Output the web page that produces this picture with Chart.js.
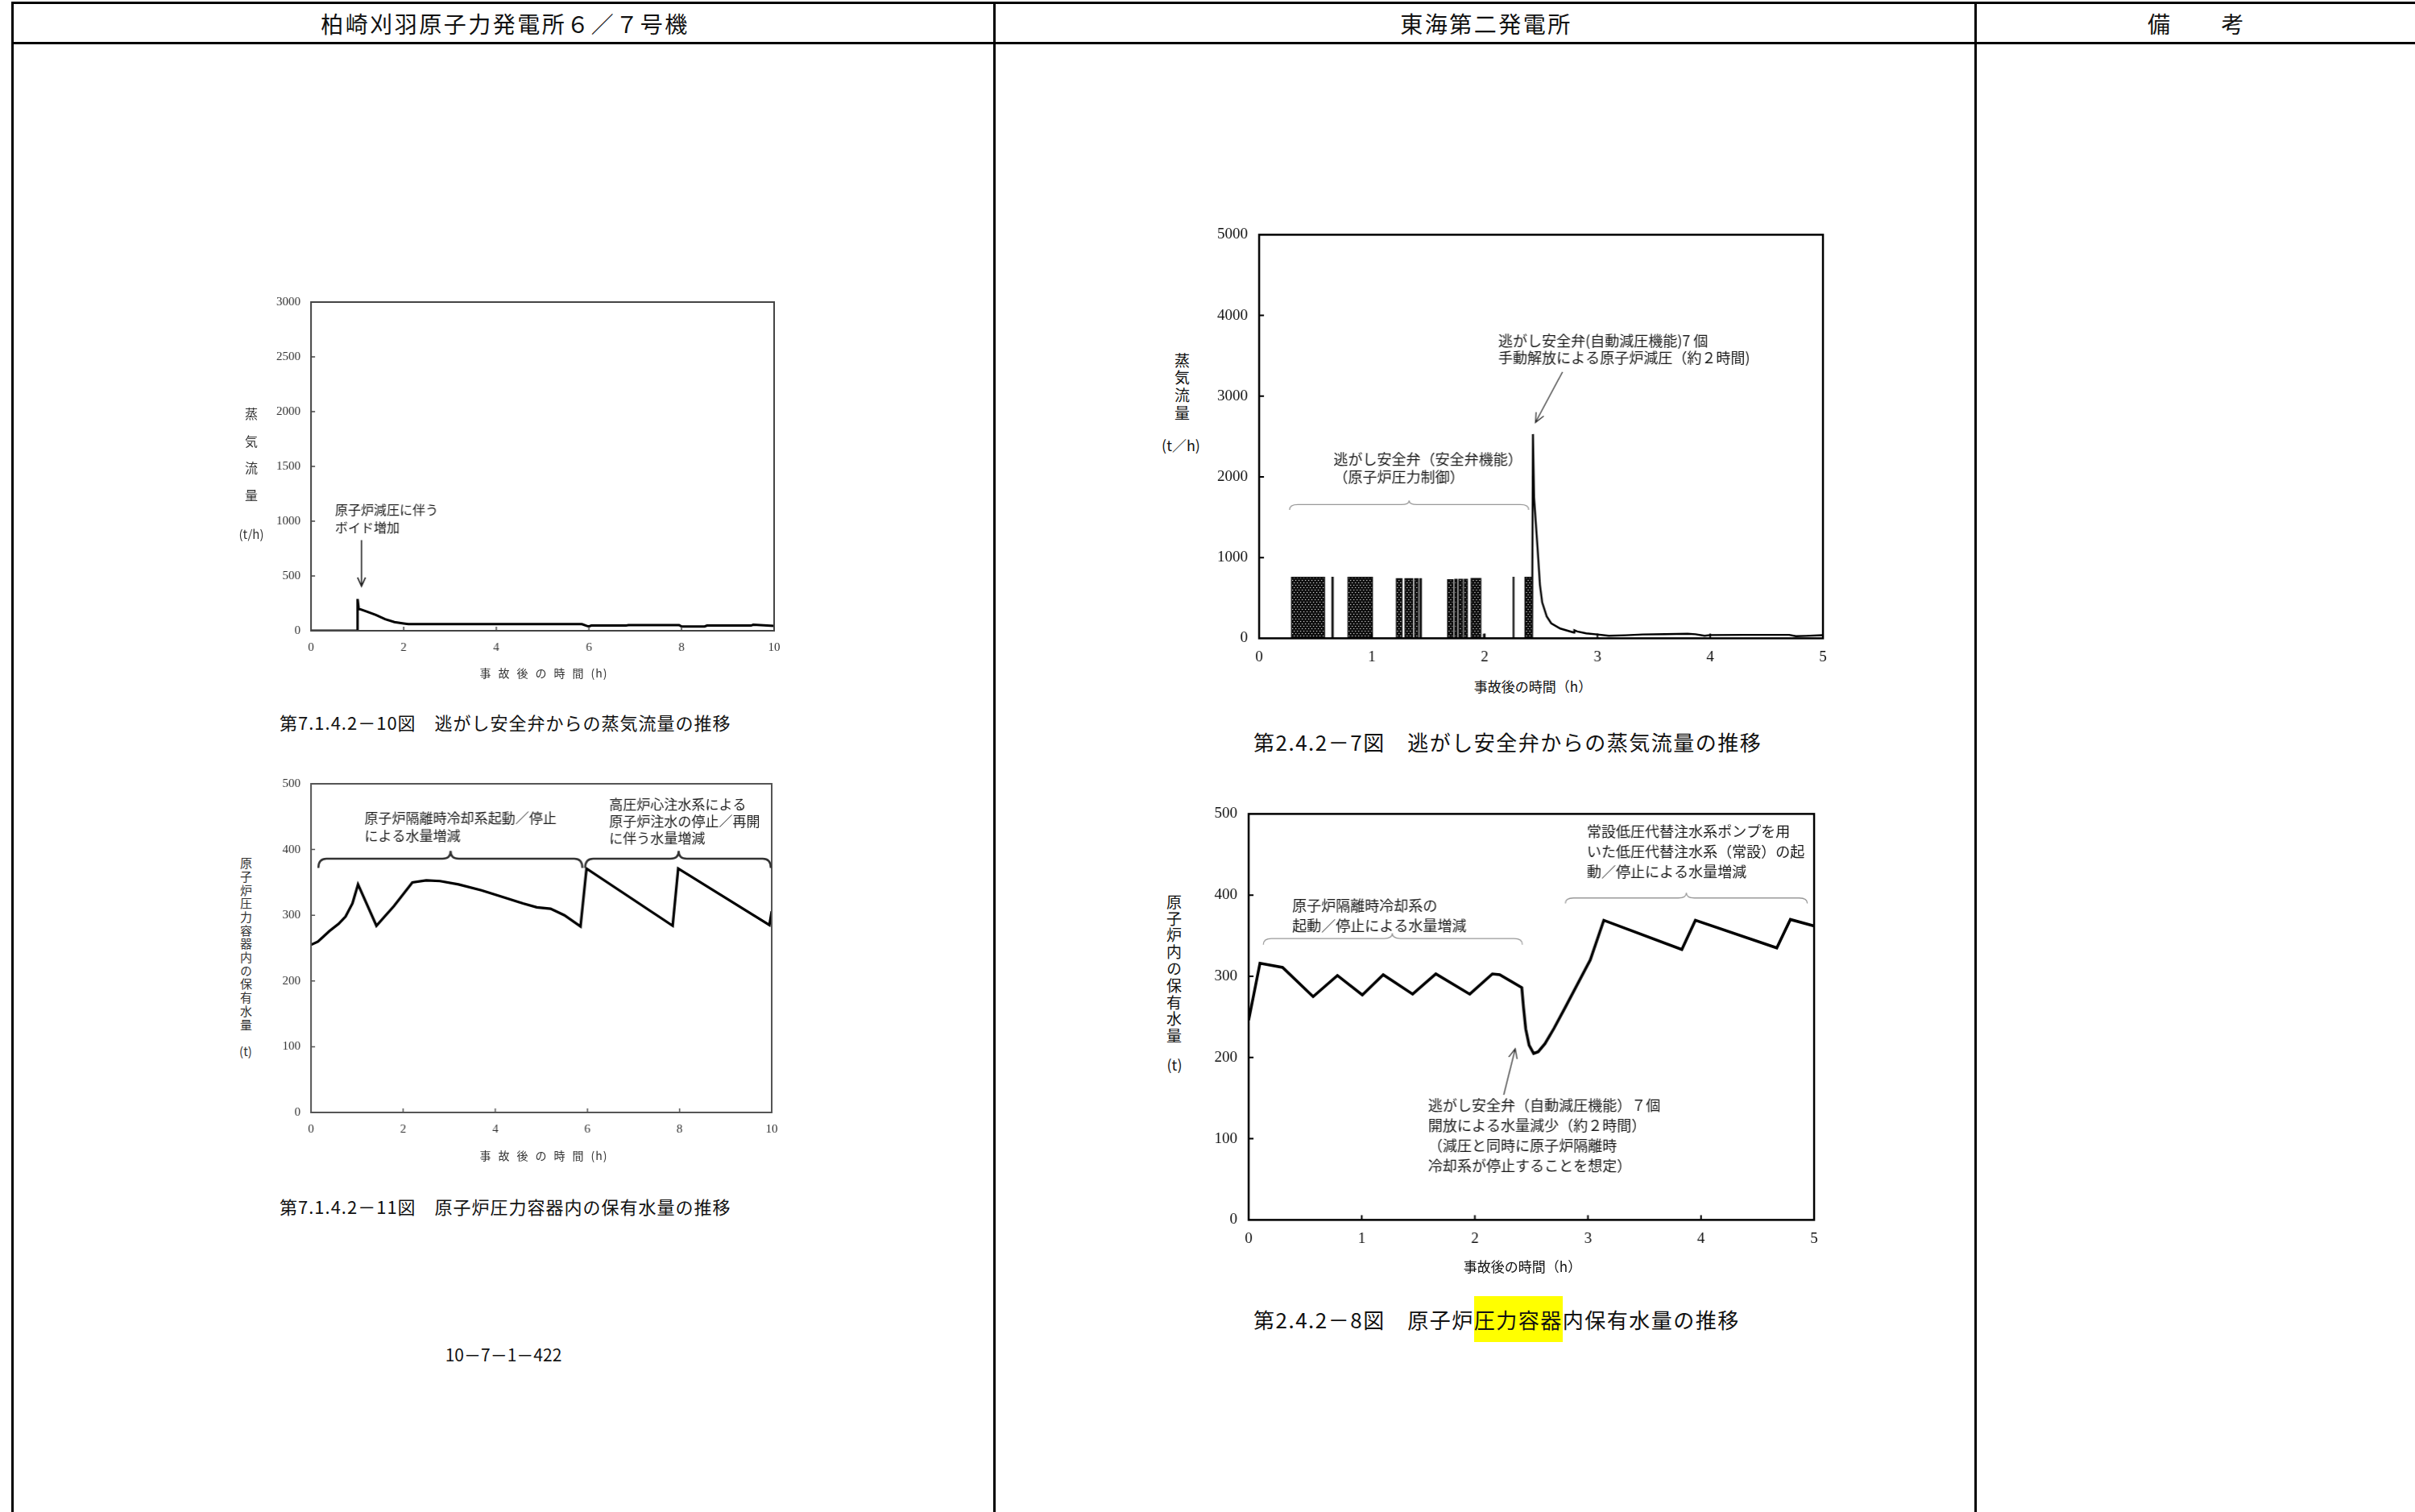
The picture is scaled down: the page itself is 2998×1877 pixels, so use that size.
<!DOCTYPE html>
<html lang="ja">
<head>
<meta charset="utf-8">
<title>蒸気流量・保有水量の推移</title>
<script src="https://cdn.jsdelivr.net/npm/chart.js@4.4.1/dist/chart.umd.min.js"></script>
<style>
  html, body { margin: 0; padding: 0; background: #fff; }
  body { width: 2998px; height: 1877px; position: relative; overflow: hidden;
         font-family: "Noto Sans CJK JP", sans-serif; color: #111; }
  .ln { position: absolute; background: #000; }
  .t  { position: absolute; white-space: nowrap; line-height: 1; transform: translateY(-50%); }
  .cx { transform: translate(-50%, -50%); }
  .v  { position: absolute; writing-mode: vertical-rl; line-height: 1; white-space: nowrap; }
  .cv { position: absolute; }
  .hl { background: #ffff00; padding: 10px 0; }
</style>
</head>
<body>

<!-- 表の罫線 -->
<div class="ln" style="left:14px;top:2px;width:2984px;height:3px"></div>
<div class="ln" style="left:14px;top:52px;width:2984px;height:3px"></div>
<div class="ln" style="left:14px;top:2px;width:3px;height:1875px"></div>
<div class="ln" style="left:1233px;top:2px;width:3px;height:1875px"></div>
<div class="ln" style="left:2451px;top:2px;width:3px;height:1875px"></div>

<div class="t cx" style="left:627px;top:29px;font-size:28px;letter-spacing:2.5px">柏崎刈羽原子力発電所６／７号機</div>
<div class="t cx" style="left:1845px;top:29px;font-size:28px;letter-spacing:2.5px">東海第二発電所</div>
<div class="t cx" style="left:2727px;top:29px;font-size:28px;letter-spacing:2.5px">備　　考</div>

<!-- 左列 -->
<canvas id="cA" class="cv"></canvas>
<div class="v" style="left:304px;top:506px;font-size:16px;letter-spacing:17.5px;color:#333">蒸気流量</div>
<div class="t cx" style="left:312px;top:662px;font-size:15px;color:#333">(t/h)</div>
<div class="t cx" style="left:675px;top:835px;font-size:14px;letter-spacing:9px;color:#333">事故後の時間<span style="letter-spacing:1px">(h)</span></div>
<div class="t" style="left:347px;top:896px;font-size:22px;letter-spacing:1px">第7.1.4.2－10図　逃がし安全弁からの蒸気流量の推移</div>

<canvas id="cB" class="cv"></canvas>
<div class="v" style="left:298px;top:1064px;font-size:15px;letter-spacing:1.7px;color:#333">原子炉圧力容器内の保有水量</div>
<div class="t cx" style="left:305px;top:1304px;font-size:15px;color:#333">(t)</div>
<div class="t cx" style="left:675px;top:1434px;font-size:14px;letter-spacing:9px;color:#333">事故後の時間<span style="letter-spacing:1px">(h)</span></div>
<div class="t" style="left:347px;top:1497px;font-size:22px;letter-spacing:1px">第7.1.4.2－11図　原子炉圧力容器内の保有水量の推移</div>

<div class="t cx" style="left:625px;top:1681px;font-size:21px">10－7－1－422</div>

<!-- 中央列 -->
<canvas id="cC" class="cv"></canvas>
<div class="v" style="left:1458px;top:438px;font-size:19px;letter-spacing:2.7px">蒸気流量</div>
<div class="t cx" style="left:1466px;top:552px;font-size:18px">(t／h)</div>
<div class="t cx" style="left:1903px;top:851px;font-size:17px">事故後の時間（h）</div>
<div class="t" style="left:1556px;top:921px;font-size:26px;letter-spacing:1.5px">第2.4.2－7図　逃がし安全弁からの蒸気流量の推移</div>

<canvas id="cD" class="cv"></canvas>
<div class="v" style="left:1448px;top:1110px;font-size:19px;letter-spacing:1.8px">原子炉内の保有水量</div>
<div class="t cx" style="left:1458px;top:1321px;font-size:18px">(t)</div>
<div class="t cx" style="left:1890px;top:1571px;font-size:17px">事故後の時間（h）</div>
<div class="t" style="left:1556px;top:1638px;font-size:26px;letter-spacing:1.5px">第2.4.2－8図　原子炉<span class="hl">圧力容器</span>内保有水量の推移</div>

<script>
// ---- 柏崎刈羽 第7.1.4.2-10図：逃がし安全弁からの蒸気流量 (t/h) ----
const kkTime  = [0, 1.0, 1.005, 1.03, 1.2, 1.4, 1.6, 1.8, 2.0, 2.1, 5.85, 5.95, 6.0, 6.05, 6.8, 6.85, 7.95, 8.0, 8.5, 8.55, 9.5, 9.55, 10];
const kkSteam = [0, 0, 290, 201, 176, 144, 105, 79, 66, 60, 60, 45, 39, 47, 47, 52, 52, 39, 39, 47, 47, 55, 45];
const kkZeroTime = [1.0, 10];
const kkZero     = [0, 0];

// ---- 柏崎刈羽 第7.1.4.2-11図：原子炉圧力容器内の保有水量 (t) ----
const kkTimeW = [0, 0.15, 0.4, 0.6, 0.75, 0.9, 1.02, 1.42, 1.8, 2.2, 2.5, 2.8, 3.2, 3.7, 4.2, 4.6, 4.9, 5.2, 5.5, 5.85, 5.98, 7.85, 7.97, 9.95, 10];
const kkWater = [255, 260, 276, 287, 298, 318, 347, 284, 314, 350, 353, 352, 347, 338, 327, 318, 312, 310, 300, 283, 371, 284, 371, 285, 306];

// ---- 東海第二 第2.4.2-7図：逃がし安全弁からの蒸気流量 (t/h) ----
// 安全弁機能による開閉の集中区間 (h) とその高さ
const tkBurstStart = [0.288, 0.646, 0.789, 1.218, 1.294, 1.380, 1.426, 1.672, 1.736, 1.772, 1.819, 1.881, 1.990, 2.253, 2.358];
const tkBurstEnd   = [0.579, 0.656, 1.004, 1.266, 1.361, 1.409, 1.438, 1.719, 1.755, 1.803, 1.846, 1.965, 1.996, 2.259, 2.420];
const tkBurstTop   = [755, 755, 755, 738, 738, 738, 738, 725, 730, 730, 730, 740, 50, 755, 755];
const tkTime  = [2.420, 2.428, 2.438, 2.47, 2.49, 2.51, 2.55, 2.59, 2.67, 2.79, 2.795, 2.82, 2.9, 3.0, 3.1, 3.25, 3.4, 3.6, 3.8, 3.87, 3.95, 4.0, 4.3, 4.7, 4.76, 4.85, 5.0];
const tkSteam = [0, 2530, 1743, 1094, 662, 445, 272, 186, 121, 72, 100, 85, 62, 48, 32, 38, 48, 52, 56, 50, 32, 40, 43, 43, 26, 30, 39];

// ---- 東海第二 第2.4.2-8図：原子炉圧力容器内保有水量 (t) ----
const tkTimeW = [0, 0.1, 0.3, 0.57, 0.785, 1.005, 1.19, 1.45, 1.655, 1.955, 2.155, 2.22, 2.415, 2.43, 2.45, 2.48, 2.52, 2.56, 2.62, 2.7, 2.8, 3.02, 3.14, 3.83, 3.95, 4.67, 4.79, 5.0];
const tkWater = [246, 316, 311, 275, 301, 277, 302, 278, 303, 278, 303, 302, 286, 262, 235, 215, 205, 207, 217, 236, 262, 320, 369, 333, 369, 335, 370, 362];

// ---- 図中の注記 ----
const kkSteamNote = ['原子炉減圧に伴う', 'ボイド増加'];
const kkWaterNote1 = ['原子炉隔離時冷却系起動／停止', 'による水量増減'];
const kkWaterNote2 = ['高圧炉心注水系による', '原子炉注水の停止／再開', 'に伴う水量増減'];
const tkSteamNote1 = ['逃がし安全弁(自動減圧機能)7 個', '手動解放による原子炉減圧（約２時間)'];
const tkSteamNote2 = ['逃がし安全弁（安全弁機能）', '（原子炉圧力制御）'];
const tkWaterNote1 = ['原子炉隔離時冷却系の', '起動／停止による水量増減'];
const tkWaterNote2 = ['常設低圧代替注水系ポンプを用', 'いた低圧代替注水系（常設）の起', '動／停止による水量増減'];
const tkWaterNote3 = ['逃がし安全弁（自動減圧機能）７個', '開放による水量減少（約２時間）', '（減圧と同時に原子炉隔離時', '冷却系が停止することを想定）'];

const pts = (xs, ys) => xs.map((x, i) => ({ x, y: ys[i] }));

// 行を下に並べる（y はデータ単位の行間）
function lines(arr, x, y0, dy) {
  return arr.map((s, i) => ({ x, y: y0 - i * dy, s }));
}

// 安全弁開閉の密集部分の網点
function dotPattern() {
  const c = document.createElement('canvas');
  c.width = 4; c.height = 6;
  const g = c.getContext('2d');
  g.fillStyle = '#111';
  g.fillRect(0, 0, 4, 6);
  g.fillStyle = '#fff';
  g.fillRect(1, 1, 1, 1);
  g.fillRect(3, 4, 1, 1);
  return g.createPattern(c, 'repeat');
}

function makeFrame(o) {
  return {
    id: 'frame',
    afterDraw(chart) {
      const { ctx, chartArea: a, scales: { x, y } } = chart;
      ctx.save();
      ctx.strokeStyle = o.color;
      ctx.lineWidth = o.tickWidth;
      ctx.beginPath();
      x.ticks.forEach(t => {
        if (t.value <= x.min || t.value >= x.max) return;
        const px = x.getPixelForValue(t.value);
        ctx.moveTo(px, a.bottom); ctx.lineTo(px, a.bottom - o.tickLen);
      });
      y.ticks.forEach(t => {
        if (t.value <= y.min || t.value >= y.max) return;
        const py = y.getPixelForValue(t.value);
        ctx.moveTo(a.left, py); ctx.lineTo(a.left + o.tickLen, py);
      });
      ctx.stroke();
      ctx.lineWidth = o.width;
      ctx.strokeRect(a.left, a.top, a.right - a.left, a.bottom - a.top);

      // 括弧
      (o.braces || []).forEach(b => {
        const X1 = x.getPixelForValue(b.x1), X2 = x.getPixelForValue(b.x2), XM = x.getPixelForValue(b.xm);
        const Y = y.getPixelForValue(b.y), YE = y.getPixelForValue(b.yEnd), YT = y.getPixelForValue(b.yTip);
        const r = 10;
        ctx.strokeStyle = b.color; ctx.lineWidth = b.width;
        ctx.beginPath();
        ctx.moveTo(X1, YE);
        ctx.quadraticCurveTo(X1, Y, X1 + r, Y);
        ctx.lineTo(XM - r, Y);
        ctx.quadraticCurveTo(XM, Y, XM, YT);
        ctx.quadraticCurveTo(XM, Y, XM + r, Y);
        ctx.lineTo(X2 - r, Y);
        ctx.quadraticCurveTo(X2, Y, X2, YE);
        ctx.stroke();
      });

      // 矢印
      (o.arrows || []).forEach(ar => {
        const x0 = x.getPixelForValue(ar.x0), y0 = y.getPixelForValue(ar.y0);
        const x1 = x.getPixelForValue(ar.x1), y1 = y.getPixelForValue(ar.y1);
        const ang = Math.atan2(y1 - y0, x1 - x0), L = ar.head, w = 0.42;
        ctx.strokeStyle = ar.color; ctx.lineWidth = ar.width;
        ctx.beginPath();
        ctx.moveTo(x0, y0); ctx.lineTo(x1, y1);
        ctx.moveTo(x1 - L * Math.cos(ang - w), y1 - L * Math.sin(ang - w));
        ctx.lineTo(x1, y1);
        ctx.lineTo(x1 - L * Math.cos(ang + w), y1 - L * Math.sin(ang + w));
        ctx.stroke();
      });

      // 文字
      ctx.fillStyle = o.noteColor;
      ctx.font = `${o.noteSize}px "Noto Sans CJK JP"`;
      ctx.textAlign = 'left';
      ctx.textBaseline = 'middle';
      (o.texts || []).forEach(t => {
        ctx.fillText(t.s, x.getPixelForValue(t.x), y.getPixelForValue(t.y));
      });
      ctx.restore();
    }
  };
}

function drawChart(id, box, o) {
  const yW = 70, xH = 46, pad = 14;
  const cv = document.getElementById(id);
  let w = box.r - box.l + yW + pad, h = box.b - box.t + pad + xH;
  let left = box.l - yW, top = box.t - pad;
  Object.assign(cv.style, { left: left + 'px', top: top + 'px', width: w + 'px', height: h + 'px' });
  cv.width = w; cv.height = h;
  const tickFont = { family: '"Liberation Serif", serif', size: o.tickSize };
  const chart = new Chart(cv, {
    type: 'line',
    data: { datasets: o.datasets },
    options: {
      responsive: false,
      maintainAspectRatio: false,
      animation: false,
      events: [],
      layout: { padding: { left: 0, top: pad, right: pad, bottom: 0 } },
      plugins: { legend: { display: false }, tooltip: { enabled: false } },
      elements: { point: { radius: 0 }, line: { tension: 0 } },
      scales: {
        x: {
          type: 'linear', min: 0, max: o.xMax,
          grid: { display: false, drawTicks: false }, border: { display: false },
          ticks: { stepSize: o.xStep, font: tickFont, color: o.tickColor, padding: o.xPad, maxRotation: 0, autoSkip: false,
                   callback: v => String(v) },
          afterFit: s => { s.height = xH; },
        },
        y: {
          type: 'linear', min: 0, max: o.yMax,
          grid: { display: false, drawTicks: false }, border: { display: false },
          ticks: { stepSize: o.yStep, font: tickFont, color: o.tickColor, padding: o.yPad, autoSkip: false,
                   callback: v => String(v) },
          afterFit: s => { s.width = yW; },
        },
      },
    },
    plugins: [makeFrame(o.frame)],
  });

  // 描画領域が box に一致するようにキャンバスを補正
  const a = chart.chartArea;
  const dl = a.left - yW, dt = a.top - pad;
  const dr = (w - pad) - a.right, db = (h - xH) - a.bottom;
  if (dl || dt || dr || db) {
    w += dl + dr; h += dt + db; left -= dl; top -= dt;
    Object.assign(cv.style, { left: left + 'px', top: top + 'px' });
    chart.resize(w, h);
  }
  return chart;
}

// 左上
drawChart('cA', { l: 386, t: 375, r: 960, b: 783 }, {
  xMax: 10, xStep: 2, yMax: 3000, yStep: 500, tickSize: 15, tickColor: '#333', xPad: 12, yPad: 13,
  datasets: [
    { data: pts(kkZeroTime, kkZero), borderColor: '#222', borderWidth: 2, borderDash: [7, 4], fill: false },
    { data: pts(kkTime, kkSteam), borderColor: '#000', borderWidth: 3, fill: false },
  ],
  frame: {
    color: '#444', width: 2, tickWidth: 1.5, tickLen: 5,
    noteColor: '#222', noteSize: 16,
    texts: lines(kkSteamNote, 0.52, 1103, 159),
    arrows: [{ x0: 1.09, y0: 827, x1: 1.09, y1: 406, head: 12, color: '#222', width: 1.6 }],
  },
});

// 左下
drawChart('cB', { l: 386, t: 973, r: 957, b: 1381 }, {
  xMax: 10, xStep: 2, yMax: 500, yStep: 100, tickSize: 15, tickColor: '#333', xPad: 12, yPad: 13,
  datasets: [
    { data: pts(kkTimeW, kkWater), borderColor: '#000', borderWidth: 3.2, fill: false },
  ],
  frame: {
    color: '#555', width: 2, tickWidth: 1.5, tickLen: 5,
    noteColor: '#222', noteSize: 17,
    texts: [...lines(kkWaterNote1, 1.16, 448, 27), ...lines(kkWaterNote2, 6.47, 469, 26)],
    braces: [
      { x1: 0.16, x2: 5.89, xm: 3.03, y: 386, yEnd: 372, yTip: 398, color: '#333', width: 2.5 },
      { x1: 5.95, x2: 9.98, xm: 7.98, y: 386, yEnd: 372, yTip: 398, color: '#333', width: 2.5 },
    ],
  },
});

// 右上
const burstPts = [];
tkBurstStart.forEach((s, i) => {
  burstPts.push({ x: s, y: 0 }, { x: s, y: tkBurstTop[i] }, { x: tkBurstEnd[i], y: tkBurstTop[i] }, { x: tkBurstEnd[i], y: 0 });
});
drawChart('cC', { l: 1563, t: 291, r: 2262, b: 792 }, {
  xMax: 5, xStep: 1, yMax: 5000, yStep: 1000, tickSize: 19, tickColor: '#111', xPad: 12, yPad: 14,
  datasets: [
    { data: burstPts, borderColor: '#111', borderWidth: 1.5, backgroundColor: dotPattern(), fill: 'origin' },
    { data: pts(tkTime, tkSteam), borderColor: '#000', borderWidth: 2.4, fill: false },
  ],
  frame: {
    color: '#000', width: 2.5, tickWidth: 2, tickLen: 6,
    noteColor: '#1a1a1a', noteSize: 18,
    texts: [...lines(tkSteamNote1, 2.12, 3689, 216), ...lines(tkSteamNote2, 0.66, 2221, 227)],
    arrows: [{ x0: 2.69, y0: 3300, x1: 2.45, y1: 2673, head: 13, color: '#333', width: 1.3 }],
    braces: [{ x1: 0.27, x2: 2.39, xm: 1.33, y: 1657, yEnd: 1592, yTip: 1709, color: '#999', width: 1.3 }],
  },
});

// 右下
drawChart('cD', { l: 1550, t: 1010, r: 2251, b: 1514 }, {
  xMax: 5, xStep: 1, yMax: 500, yStep: 100, tickSize: 19, tickColor: '#111', xPad: 12, yPad: 14,
  datasets: [
    { data: pts(tkTimeW, tkWater), borderColor: '#000', borderWidth: 3.5, fill: false },
  ],
  frame: {
    color: '#000', width: 2.5, tickWidth: 2, tickLen: 6,
    noteColor: '#1a1a1a', noteSize: 18,
    texts: [...lines(tkWaterNote1, 0.385, 387, 25), ...lines(tkWaterNote2, 2.99, 478.5, 25), ...lines(tkWaterNote3, 1.587, 141, 24.7)],
    arrows: [{ x0: 2.256, y0: 154, x1: 2.357, y1: 210.8, head: 13, color: '#333', width: 1.3 }],
    braces: [
      { x1: 0.13, x2: 2.42, xm: 1.27, y: 346.6, yEnd: 339, yTip: 353, color: '#999', width: 1.3 },
      { x1: 2.80, x2: 4.94, xm: 3.87, y: 396.5, yEnd: 389.7, yTip: 403, color: '#999', width: 1.3 },
    ],
  },
});
</script>
</body>
</html>
